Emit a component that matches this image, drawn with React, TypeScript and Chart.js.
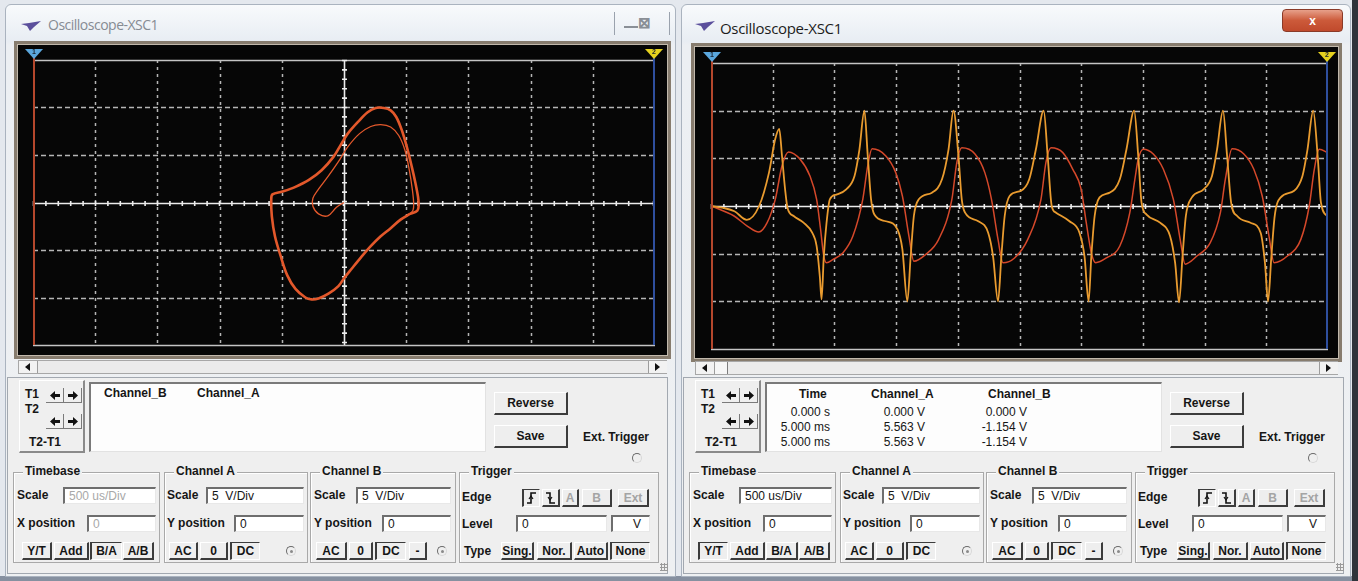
import { useEffect, useRef } from "react";
import type { CSSProperties, ReactNode } from "react";
import { Chart, registerables } from "chart.js";

Chart.register(...registerables);

// ---------------------------------------------------------------------------
// Measured signals
// Y/T screen: [time (ms), volts]
const channelA: [number, number][] = [
  [0, 0], [0.187, -1.05], [0.294, -2.1], [0.388, -2.73], [0.455, -1.75], [0.521, 0.7],
  [0.575, 4.2], [0.628, 5.67], [0.722, 4.9], [0.802, 3.15], [0.856, 0.7], [0.888, -2.45],
  [0.914, -5.25], [0.936, -5.95], [0.989, -5.6], [1.07, -4.9], [1.15, -3.15], [1.23, 0.7],
  [1.27, 4.2], [1.305, 6.0], [1.417, 5.25], [1.497, 3.5], [1.551, 1.05], [1.604, -3.15],
  [1.644, -5.8], [1.738, -5.1], [1.845, -3.5], [1.952, 0.7], [1.992, 4.55], [2.032, 6.1],
  [2.139, 5.45], [2.219, 3.5], [2.273, 0.7], [2.326, -3.5], [2.366, -5.95], [2.46, -5.45],
  [2.567, -3.5], [2.674, 0.7], [2.714, 4.55], [2.755, 6.1], [2.851, 5.6], [2.932, 3.85],
  [3.0, 1.75], [3.041, -1.75], [3.082, -4.9], [3.117, -5.95], [3.204, -5.45], [3.313, -4.2],
  [3.394, -0.7], [3.435, 2.8], [3.462, 4.9], [3.503, 5.95], [3.584, 5.45], [3.666, 3.85],
  [3.747, 0.7], [3.802, -3.5], [3.842, -6.1], [3.938, -5.25], [4.046, -3.85], [4.128, -0.7],
  [4.168, 2.8], [4.223, 6.0], [4.318, 5.45], [4.399, 3.85], [4.467, 1.05], [4.522, -3.15],
  [4.563, -5.95], [4.671, -5.25], [4.78, -3.5], [4.848, 0], [4.889, 3.85], [4.929, 5.95],
  [5.0, 5.563],
];

const channelB: [number, number][] = [
  [0, 0], [0.1, -0.2], [0.19, -0.55], [0.29, -1.45], [0.39, 0], [0.47, 3.5], [0.52, 7.0],
  [0.553, 8.1], [0.575, 5.3], [0.6, 1.8], [0.62, -0.2], [0.67, -1.05], [0.75, -1.75],
  [0.82, -2.8], [0.856, -4.2], [0.882, -7.4], [0.896, -9.8], [0.914, -5.3], [0.936, -1.8],
  [0.963, 0.7], [1.016, 1.2], [1.096, 1.75], [1.163, 3.15], [1.203, 5.95], [1.243, 10.0],
  [1.27, 5.3], [1.297, 0.7], [1.324, -0.9], [1.417, -1.6], [1.511, -2.45], [1.551, -4.55],
  [1.591, -10.0], [1.618, -5.3], [1.644, -1.05], [1.684, 0.7], [1.791, 1.4], [1.872, 2.8],
  [1.925, 5.95], [1.965, 10.0], [2.005, 5.3], [2.032, 0.7], [2.059, -0.7], [2.166, -1.6],
  [2.246, -2.8], [2.286, -5.3], [2.326, -10.0], [2.353, -5.3], [2.38, -1.05], [2.42, 1.05],
  [2.513, 1.6], [2.579, 2.8], [2.633, 5.95], [2.696, 10.0], [2.728, 5.3], [2.761, 0],
  [2.796, -0.7], [2.905, -1.6], [2.986, -2.8], [3.027, -5.3], [3.06, -10.0], [3.082, -5.3],
  [3.109, -1.05], [3.149, 0.9], [3.231, 1.4], [3.313, 2.8], [3.367, 5.95], [3.429, 10.0],
  [3.462, 5.3], [3.489, 0.35], [3.53, -0.9], [3.639, -1.75], [3.72, -3.15], [3.761, -5.95],
  [3.793, -10.1], [3.821, -5.3], [3.848, -1.05], [3.897, 0.9], [3.992, 1.75], [4.06, 3.15],
  [4.101, 5.95], [4.149, 10.0], [4.182, 5.3], [4.215, 0.35], [4.264, -1.05], [4.372, -1.75],
  [4.454, -2.8], [4.489, -5.95], [4.514, -10.0], [4.541, -5.3], [4.568, -1.05], [4.617, 0.9],
  [4.726, 1.6], [4.793, 3.15], [4.834, 5.95], [4.88, 10.0], [4.916, 5.3], [4.943, 0.35],
  [5.0, -1.154],
];

// B/A screen: [Channel A volts, Channel B volts]
const xyStartup: [number, number][] = [
  [0, 0], [-0.6, -0.5], [-1.3, -1.4], [-2.05, -1.2], [-2.5, -0.4], [-2.5, 0.45], [-2.05, 1.4],
  [-1.25, 2.8], [-0.45, 4.3], [0.3, 5.85], [1.25, 7.25], [2.15, 8.0], [2.95, 8.2], [3.75, 7.95],
  [4.4, 7.05], [4.9, 5.5], [5.25, 3.4], [5.5, 1.3], [5.6, -0.1], [5.55, -0.8], [5.3, -1.2],
];

const xyCycle: [number, number][] = [
  [5.3, -1.2], [4.55, -1.8], [3.75, -2.7], [2.95, -3.55], [2.15, -4.6], [1.35, -5.8],
  [0.6, -7.0], [0.05, -7.9], [-0.45, -8.8], [-1.25, -9.6], [-2.05, -10.1], [-2.6, -10.2],
  [-3.1, -10.0], [-3.9, -9.1], [-4.55, -7.7], [-5.1, -5.6], [-5.55, -3.55], [-5.8, -1.45],
  [-5.85, 0.3], [-5.75, 0.85], [-4.95, 1.15], [-3.9, 1.65], [-2.85, 2.35], [-1.8, 3.4],
  [-0.85, 4.8], [-0.2, 6.2], [0.3, 7.25], [1.1, 8.45], [1.9, 9.5], [2.55, 9.95], [3.2, 9.95],
  [3.75, 9.7], [4.2, 9.0], [4.65, 7.6], [5.05, 5.85], [5.45, 3.75], [5.75, 2.0], [5.95, 0.6],
  [6.0, -0.25], [5.9, -0.85], [5.3, -1.2],
];

// Graticule divisions (10 x 6)
const timeGrid = [0, 0.5, 1, 1.5, 2, 2.5, 3, 3.5, 4, 4.5, 5];
const voltGridX = [-25, -20, -15, -10, -5, 0, 5, 10, 15, 20, 25];
const voltGridY = [-15, -10, -5, 0, 5, 10, 15];

// Cursor readout
const readoutHead = ["Time", "Channel_A", "Channel_B"];
const readoutTime = ["0.000 s", "5.000 ms", "5.000 ms"];
const readoutA = ["0.000 V", "5.563 V", "5.563 V"];
const readoutB = ["0.000 V", "-1.154 V", "-1.154 V"];

const COLOR_A = "#d5482a";
const COLOR_B = "#e99b2f";
const COLOR_XY = "#e3582b";
const UI = '"Liberation Sans", Arial, Helvetica, sans-serif';
const TITLE_FONT = '"Open Sans", "Noto Sans", sans-serif';

// ---------------------------------------------------------------------------
// Graticule, cursors and cursor flags drawn on the scope screen
const graticule = {
  id: "graticule",
  beforeDatasetsDraw(chart: any, _args: any, o: any) {
    if (!o || !o.xs) return;
    const { ctx, chartArea: a } = chart;
    const sx = chart.scales.x;
    const sy = chart.scales.y;
    const xp: number[] = o.xs.map((v: number) => Math.round(sx.getPixelForValue(v)) + 0.5);
    const yp: number[] = o.ys.map((v: number) => Math.round(sy.getPixelForValue(v)) + 0.5);
    const cx = xp[(xp.length - 1) / 2];
    const cy = yp[(yp.length - 1) / 2];
    ctx.save();
    ctx.lineWidth = 1.5;
    ctx.strokeStyle = "rgba(212,212,212,0.85)";
    ctx.setLineDash([3, 4]);
    ctx.beginPath();
    xp.slice(1, -1).forEach((x) => {
      if (o.centerX && x === cx) return;
      ctx.moveTo(x, a.top);
      ctx.lineTo(x, a.bottom);
    });
    ctx.stroke();
    ctx.setLineDash([5, 3]);
    ctx.beginPath();
    yp.slice(1, -1).forEach((y) => {
      if (y === cy) return;
      ctx.moveTo(a.left, y);
      ctx.lineTo(a.right, y);
    });
    ctx.stroke();
    ctx.setLineDash([]);
    // top and bottom frame lines
    ctx.strokeStyle = "#c4c4c4";
    ctx.lineWidth = 1.6;
    ctx.beginPath();
    ctx.moveTo(a.left, yp[0]);
    ctx.lineTo(a.right, yp[0]);
    ctx.moveTo(a.left, yp[yp.length - 1]);
    ctx.lineTo(a.right, yp[yp.length - 1]);
    ctx.stroke();
    // centre axes with minor ticks
    ctx.strokeStyle = "#ececec";
    ctx.lineWidth = 1.6;
    ctx.beginPath();
    ctx.moveTo(a.left, cy);
    ctx.lineTo(a.right, cy);
    const dx = (xp[1] - xp[0]) / 5;
    for (let x = xp[0]; x <= xp[xp.length - 1] + 0.5; x += dx) {
      ctx.moveTo(x, cy - 2.5);
      ctx.lineTo(x, cy + 2.5);
    }
    if (o.centerX) {
      ctx.moveTo(cx, a.top);
      ctx.lineTo(cx, a.bottom);
      const dy = (yp[0] - yp[1]) / 5;
      for (let y = yp[yp.length - 1]; y <= yp[0] + 0.5; y += dy) {
        ctx.moveTo(cx - 2.5, y);
        ctx.lineTo(cx + 2.5, y);
      }
    }
    ctx.stroke();
    ctx.restore();
  },
  afterDatasetsDraw(chart: any, _args: any, o: any) {
    if (!o || !o.xs) return;
    const { ctx, chartArea: a } = chart;
    const x1 = a.left + 1;
    const x2 = a.right - 1;
    ctx.save();
    ctx.lineWidth = 2;
    ctx.strokeStyle = "#b4472c";
    ctx.beginPath();
    ctx.moveTo(x1, a.top - 3);
    ctx.lineTo(x1, a.bottom);
    ctx.stroke();
    ctx.strokeStyle = "#2f4f9e";
    ctx.beginPath();
    ctx.moveTo(x2, a.top - 3);
    ctx.lineTo(x2, a.bottom);
    ctx.stroke();
    const flag = (x: number, fill: string, label: string) => {
      ctx.fillStyle = fill;
      ctx.beginPath();
      ctx.moveTo(x - 9, a.top - 11);
      ctx.lineTo(x + 9, a.top - 11);
      ctx.lineTo(x, a.top - 1);
      ctx.closePath();
      ctx.fill();
      ctx.fillStyle = "#1b2430";
      ctx.font = "bold 7px " + UI;
      ctx.textAlign = "center";
      ctx.textBaseline = "middle";
      ctx.fillText(label, x, a.top - 7.5);
    };
    flag(x1, "#5ba7dd", "1");
    flag(x2, "#e6d21f", "2");
    ctx.restore();
  },
};
Chart.register(graticule);

function scopeOptions(pad: any, xs: number[], ys: number[], centerX: boolean) {
  return {
    responsive: false,
    animation: false,
    events: [],
    layout: { padding: pad },
    scales: {
      x: { type: "linear", min: xs[0], max: xs[xs.length - 1], display: false },
      y: { type: "linear", min: ys[0], max: ys[ys.length - 1], display: false },
    },
    elements: { point: { radius: 0 } },
    plugins: {
      legend: { display: false },
      tooltip: { enabled: false },
      graticule: { xs, ys, centerX },
    },
  };
}

function xyConfig(): any {
  const pts = (arr: [number, number][]) => arr.map(([a, b]) => ({ x: a, y: b }));
  return {
    type: "scatter",
    data: {
      datasets: [
        { data: pts(xyCycle), showLine: true, borderColor: COLOR_XY, borderWidth: 2.6, tension: 0.35, pointRadius: 0 },
        { data: pts(xyStartup), showLine: true, borderColor: COLOR_XY, borderWidth: 1.3, tension: 0.35, pointRadius: 0 },
      ],
    },
    options: scopeOptions({ left: 15, right: 12, top: 15, bottom: 10 }, voltGridX, voltGridY, true),
  };
}

function ytConfig(): any {
  const pts = (arr: [number, number][]) => arr.map(([t, v]) => ({ x: t, y: v }));
  return {
    type: "line",
    data: {
      datasets: [
        { label: "Channel_B", data: pts(channelB), borderColor: COLOR_B, borderWidth: 1.8, cubicInterpolationMode: "monotone", pointRadius: 0 },
        { label: "Channel_A", data: pts(channelA), borderColor: COLOR_A, borderWidth: 1.5, cubicInterpolationMode: "monotone", pointRadius: 0 },
      ],
    },
    options: scopeOptions({ left: 16, right: 10, top: 16, bottom: 9 }, timeGrid, voltGridY, false),
  };
}

function Screen({ x, y, w, h, config }: { x: number; y: number; w: number; h: number; config: () => any }) {
  const ref = useRef<HTMLCanvasElement>(null);
  useEffect(() => {
    const chart = new Chart(ref.current as HTMLCanvasElement, config());
    return () => chart.destroy();
  }, []);
  return (
    <>
      <div style={{ position: "absolute", left: x - 4, top: y - 4, width: w + 8, height: h + 8, boxSizing: "border-box", border: "3px solid #877c6e", boxShadow: "inset 0 0 0 1px #c2b9ac", background: "#060606" }} />
      <canvas ref={ref} width={w} height={h} style={{ position: "absolute", left: x, top: y, width: w, height: h, background: "#060606" }} />
    </>
  );
}

// ---------------------------------------------------------------------------
// Small UI pieces
function T({ x, y, s = 12, b = true, c = "#161616", right, children }: { x?: number; y: number; s?: number; b?: boolean; c?: string; right?: number; children: ReactNode }) {
  const st: CSSProperties = {
    position: "absolute",
    top: y - Math.round(s * 0.6),
    font: `${b ? "bold " : ""}${s}px ${UI}`,
    lineHeight: `${Math.round(s * 1.2)}px`,
    color: c,
    whiteSpace: "nowrap",
  };
  if (right !== undefined) st.right = 1358 - right;
  else st.left = x;
  return <div style={st}>{children}</div>;
}

function Btn({ x, y, w, h = 18, pressed, dim, children }: { x: number; y: number; w: number; h?: number; pressed?: boolean; dim?: boolean; children: ReactNode }) {
  const dark = "#3c3c3c";
  const light = "#ffffff";
  return (
    <div
      style={{
        position: "absolute", left: x, top: y, width: w, height: h, boxSizing: "border-box",
        background: "#eeeeee",
        borderTop: `1px solid ${pressed ? dark : light}`,
        borderLeft: `${pressed ? 2 : 1}px solid ${pressed ? dark : light}`,
        borderRight: `${pressed ? 1 : 2}px solid ${pressed ? light : dark}`,
        borderBottom: `${pressed ? 1 : 2}px solid ${pressed ? light : dark}`,
        display: "flex", alignItems: "center", justifyContent: "center",
        font: `bold 12px ${UI}`, color: dim ? "#a4a4a4" : "#151515", whiteSpace: "nowrap",
      }}
    >
      {children}
    </div>
  );
}

function Field({ x, y, w, h = 17, dim, children }: { x: number; y: number; w: number; h?: number; dim?: boolean; children: ReactNode }) {
  return (
    <div
      style={{
        position: "absolute", left: x, top: y, width: w, height: h, boxSizing: "border-box",
        background: "#ffffff", borderTop: "2px solid #6e6e6e", borderLeft: "2px solid #6e6e6e",
        borderRight: "1px solid #e8e8e8", borderBottom: "1px solid #e8e8e8",
        font: `12px ${UI}`, color: dim ? "#a8a8a8" : "#151515", paddingLeft: 4, lineHeight: `${h - 3}px`, whiteSpace: "pre",
      }}
    >
      {children}
    </div>
  );
}

function Group({ x, y, w, h, title }: { x: number; y: number; w: number; h: number; title: string }) {
  return (
    <>
      <div style={{ position: "absolute", left: x, top: y, width: w, height: h, boxSizing: "border-box", border: "1px solid #a9a9a9", boxShadow: "inset 1px 1px 0 #ffffff" }} />
      <div style={{ position: "absolute", left: x + 10, top: y - 8, padding: "0 2px", background: "#efefef", font: `bold 12px ${UI}`, color: "#161616", lineHeight: "15px" }}>{title}</div>
    </>
  );
}

function Radio({ x, y, dot }: { x: number; y: number; dot?: boolean }) {
  return (
    <div style={{ position: "absolute", left: x - 5, top: y - 5, width: 10, height: 10, boxSizing: "border-box", borderRadius: "50%", borderTop: "1.5px solid #6a6a6a", borderLeft: "1.5px solid #6a6a6a", borderRight: "1.5px solid #d8d8d8", borderBottom: "1.5px solid #d8d8d8", display: "flex", alignItems: "center", justifyContent: "center" }}>
      {dot ? <div style={{ width: 3, height: 3, borderRadius: "50%", background: "#8a8a8a" }} /> : null}
    </div>
  );
}

function Arrow({ x, y, dir }: { x: number; y: number; dir: "l" | "r" }) {
  const d = dir === "l" ? "M1 5.5 L6 1 L6 4 L11 4 L11 7 L6 7 L6 10 Z" : "M11 5.5 L6 1 L6 4 L1 4 L1 7 L6 7 L6 10 Z";
  return (
    <div style={{ position: "absolute", left: x, top: y, width: 18, height: 15, boxSizing: "border-box", borderRight: "1px solid #7a7a7a", borderBottom: "1px solid #7a7a7a", display: "flex", alignItems: "center", justifyContent: "center" }}>
      <svg width="12" height="11"><path d={d} fill="#111" /></svg>
    </div>
  );
}

function EdgeIcon({ falling }: { falling?: boolean }) {
  return (
    <svg width="11" height="12">
      <path d={falling ? "M1 1 H5 V11 H10" : "M1 11 H5 V1 H10"} stroke="#111" strokeWidth="1.6" fill="none" />
      <path d={falling ? "M3 5 L5 8 L7 5" : "M3 7 L5 4 L7 7"} stroke="#111" strokeWidth="1.2" fill="none" />
    </svg>
  );
}

function Scrollbar({ x, y, w, thumb }: { x: number; y: number; w: number; thumb?: boolean }) {
  return (
    <>
      <div style={{ position: "absolute", left: x, top: y, width: w, height: 14, boxSizing: "border-box", background: "#ebebeb", border: "1px solid #a7a7a7" }} />
      <div style={{ position: "absolute", left: x + 1, top: y + 1, width: 18, height: 12, background: "#f2f2f2", borderRight: "1px solid #9c9c9c", display: "flex", alignItems: "center", justifyContent: "center" }}>
        <svg width="6" height="8"><path d="M5 0 L0 4 L5 8 Z" fill="#111" /></svg>
      </div>
      {thumb ? <div style={{ position: "absolute", left: x + 20, top: y + 1, width: 12, height: 12, background: "#f6f6f6", borderRight: "1px solid #7c7c7c" }} /> : null}
      <div style={{ position: "absolute", left: x + w - 19, top: y + 1, width: 18, height: 12, background: "#f2f2f2", borderLeft: "1px solid #9c9c9c", display: "flex", alignItems: "center", justifyContent: "center" }}>
        <svg width="6" height="8"><path d="M0 0 L5 4 L0 8 Z" fill="#111" /></svg>
      </div>
    </>
  );
}

function WinIcon({ x, y }: { x: number; y: number }) {
  return (
    <svg width="22" height="12" style={{ position: "absolute", left: x, top: y }}>
      <path d="M1 4 L9 3 L21 1 L14 7 L10 11 L7 6 Z" fill="#5b4f9c" />
    </svg>
  );
}

// ---------------------------------------------------------------------------
// Oscilloscope window
function ScopeWindow({ ox, yt }: { ox: number; yt: boolean }) {
  const X = (v: number) => v + ox;
  return (
    <>
      {/* window frame and title bar */}
      <div style={{ position: "absolute", left: X(5), top: 4, width: yt ? 670 : 671, height: 573, boxSizing: "border-box", border: "1px solid #aab3bf", borderRadius: "6px 6px 0 0", background: "linear-gradient(#f8fafc 0px, #e8edf3 36px, #eceff3 40px, #eef0f2 100%)" }} />
      <WinIcon x={X(yt ? 18 : 20)} y={20} />
      <div style={{ position: "absolute", left: X(yt ? 44 : 48), top: yt ? 18 : 15, font: `${yt ? 15 : 14}px ${TITLE_FONT}`, color: yt ? "#1c1c1c" : "#868b93", whiteSpace: "nowrap", letterSpacing: yt ? -0.3 : -0.5 }}>
        Oscilloscope-XSC1
      </div>
      {yt ? (
        <div style={{ position: "absolute", left: 1282, top: 9, width: 61, height: 23, borderRadius: 4, background: "linear-gradient(#e7a08a, #cc5a3a 50%, #c04a2c)", border: "1px solid #8a3a28", boxSizing: "border-box", display: "flex", alignItems: "center", justifyContent: "center", color: "#fff", font: `bold 12px ${UI}` }}>
          x
        </div>
      ) : (
        <>
          <div style={{ position: "absolute", left: 614, top: 12, width: 56, height: 23, boxSizing: "border-box", borderLeft: "1px solid #9aa2ad", borderRight: "1px solid #9aa2ad" }} />
          <div style={{ position: "absolute", left: 624, top: 26, width: 14, height: 2, background: "#8a8f96" }} />
          <div style={{ position: "absolute", left: 638, top: 14, font: `bold 15px ${UI}`, color: "#8a8f96" }}>⊠</div>
        </>
      )}

      {/* display */}
      {yt ? (
        <Screen x={695} y={47} w={643} h={311} config={ytConfig} />
      ) : (
        <Screen x={18} y={45} w={649} h={310} config={xyConfig} />
      )}
      {yt ? <Scrollbar x={695} y={361} w={643} thumb /> : <Scrollbar x={18} y={360} w={649} />}

      {/* control area */}
      <div style={{ position: "absolute", left: X(7), top: 377, width: 661, height: 197, boxSizing: "border-box", border: "1px solid #a2a8b0", background: "#efefef" }} />

      {/* cursor buttons */}
      <div style={{ position: "absolute", left: X(19), top: 380, width: 66, height: 73, boxSizing: "border-box", borderTop: "1px solid #fff", borderLeft: "1px solid #fff", borderRight: "2px solid #8a8a8a", borderBottom: "2px solid #8a8a8a" }} />
      <T x={X(25)} y={394}>T1</T>
      <T x={X(25)} y={409}>T2</T>
      <T x={X(29)} y={442}>T2-T1</T>
      <Arrow x={X(46)} y={388} dir="l" />
      <Arrow x={X(64)} y={388} dir="r" />
      <Arrow x={X(46)} y={414} dir="l" />
      <Arrow x={X(64)} y={414} dir="r" />

      {/* readout */}
      <div style={{ position: "absolute", left: X(89), top: 382, width: 397, height: 70, boxSizing: "border-box", background: "#fdfdfd", borderTop: "2px solid #7a7a7a", borderLeft: "2px solid #7a7a7a", borderRight: "1px solid #e2e2e2", borderBottom: "1px solid #e2e2e2" }} />
      {yt ? (
        <>
          <T x={799} y={394}>{readoutHead[0]}</T>
          <T x={871} y={394}>{readoutHead[1]}</T>
          <T x={988} y={394}>{readoutHead[2]}</T>
          {readoutTime.map((s, i) => (
            <T key={"t" + i} right={830} y={412 + i * 15} b={false}>{s}</T>
          ))}
          {readoutA.map((s, i) => (
            <T key={"a" + i} right={925} y={412 + i * 15} b={false}>{s}</T>
          ))}
          {readoutB.map((s, i) => (
            <T key={"b" + i} right={1027} y={412 + i * 15} b={false}>{s}</T>
          ))}
        </>
      ) : (
        <>
          <T x={104} y={393}>Channel_B</T>
          <T x={197} y={393}>Channel_A</T>
        </>
      )}

      <Btn x={X(494)} y={392} w={74} h={23}>Reverse</Btn>
      <Btn x={X(494)} y={425} w={74} h={23}>Save</Btn>
      <T x={X(583)} y={437}>Ext. Trigger</T>
      <Radio x={X(637)} y={458} />

      {/* Timebase */}
      <Group x={X(13)} y={472} w={147} h={91} title="Timebase" />
      <T x={X(17)} y={495}>Scale</T>
      <Field x={X(63)} y={487} w={93} dim={!yt}>500 us/Div</Field>
      <T x={X(17)} y={523}>X position</T>
      <Field x={X(87)} y={515} w={69} dim={!yt}>0</Field>
      <Btn x={X(22)} y={542} w={30} pressed={yt}>Y/T</Btn>
      <Btn x={X(54)} y={542} w={35}>Add</Btn>
      <Btn x={X(90)} y={542} w={32} pressed={!yt}>B/A</Btn>
      <Btn x={X(123)} y={542} w={31}>A/B</Btn>

      {/* Channel A */}
      <Group x={X(164)} y={472} w={144} h={91} title="Channel A" />
      <T x={X(167)} y={495}>Scale</T>
      <Field x={X(206)} y={487} w={98}>{"5  V/Div"}</Field>
      <T x={X(167)} y={523}>Y position</T>
      <Field x={X(234)} y={515} w={70}>0</Field>
      <Btn x={X(169)} y={542} w={29}>AC</Btn>
      <Btn x={X(200)} y={542} w={28}>0</Btn>
      <Btn x={X(230)} y={542} w={30} pressed>DC</Btn>
      <Radio x={X(291)} y={551} dot />

      {/* Channel B */}
      <Group x={X(310)} y={472} w={146} h={91} title="Channel B" />
      <T x={X(314)} y={495}>Scale</T>
      <Field x={X(356)} y={487} w={95}>{"5  V/Div"}</Field>
      <T x={X(314)} y={523}>Y position</T>
      <Field x={X(382)} y={515} w={69}>0</Field>
      <Btn x={X(316)} y={542} w={31}>AC</Btn>
      <Btn x={X(349)} y={542} w={24}>0</Btn>
      <Btn x={X(375)} y={542} w={31} pressed>DC</Btn>
      <Btn x={X(409)} y={542} w={18}>-</Btn>
      <Radio x={X(442)} y={551} dot />

      {/* Trigger */}
      <Group x={X(459)} y={472} w={200} h={91} title="Trigger" />
      <T x={X(462)} y={497}>Edge</T>
      <Btn x={X(522)} y={489} w={18} pressed><EdgeIcon /></Btn>
      <Btn x={X(542)} y={489} w={18}><EdgeIcon falling /></Btn>
      <Btn x={X(562)} y={489} w={17} dim>A</Btn>
      <Btn x={X(582)} y={489} w={30} dim>B</Btn>
      <Btn x={X(618)} y={489} w={31} dim>Ext</Btn>
      <T x={X(462)} y={524}>Level</T>
      <Field x={X(516)} y={515} w={91}>0</Field>
      <Field x={X(611)} y={515} w={39}>
        <span style={{ display: "block", textAlign: "right", paddingRight: 8 }}>V</span>
      </Field>
      <T x={X(464)} y={551}>Type</T>
      <Btn x={X(501)} y={542} w={33}>Sing.</Btn>
      <Btn x={X(537)} y={542} w={35}>Nor.</Btn>
      <Btn x={X(574)} y={542} w={34}>Auto</Btn>
      <Btn x={X(610)} y={542} w={40} pressed>None</Btn>

      {/* size grip */}
      <div style={{ position: "absolute", left: X(660), top: 563, width: 8, height: 8, backgroundImage: "radial-gradient(#9a9a9a 1px, transparent 1.2px)", backgroundSize: "3px 3px" }} />
    </>
  );
}

export default function App() {
  return (
    <div style={{ position: "fixed", left: 0, top: 0, width: 1358, height: 581, overflow: "hidden", background: "#e4e8ee", fontFamily: UI }}>
      <div style={{ position: "absolute", left: 0, top: 576, width: 1358, height: 5, background: "#8690a0" }} />
      <div style={{ position: "absolute", left: 1352, top: 0, width: 6, height: 581, background: "#30343b" }} />
      <ScopeWindow ox={0} yt={false} />
      <ScopeWindow ox={676} yt />
    </div>
  );
}
